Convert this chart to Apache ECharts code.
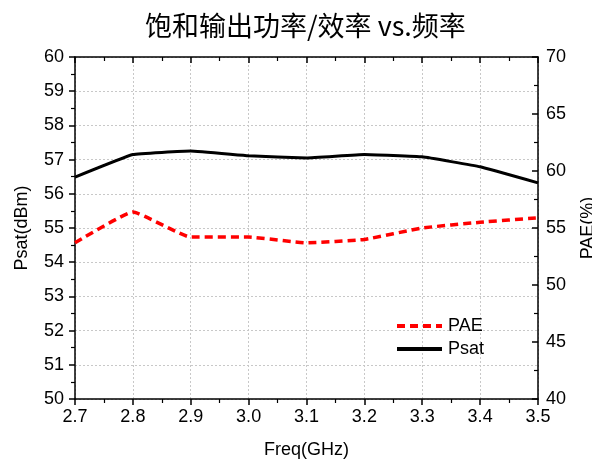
<!DOCTYPE html>
<html><head><meta charset="utf-8">
<script src="https://cdn.jsdelivr.net/npm/echarts@6/dist/echarts.min.js"></script>
<style>html,body{margin:0;padding:0;background:#fff}#c{width:592px;height:461px}</style>
</head><body><div id="c"></div>
<script>
const freq = [2.7, 2.8, 2.9, 3.0, 3.1, 3.2, 3.3, 3.4, 3.5];
const psat = [56.49, 57.15, 57.25, 57.11, 57.05, 57.15, 57.08, 56.79, 56.32];
const pae = [53.7, 56.4, 54.2, 54.2, 53.7, 54.0, 55.0, 55.5, 55.9];
const title = '饱和输出功率/效率 vs.频率';

const chart = echarts.init(document.getElementById('c'));
const font = 'Arial, "Liberation Sans", sans-serif';
const axisLine = {show: true, lineStyle: {color: '#000', width: 1.5}};
const tickOut = {show: true, inside: false, length: 6, lineStyle: {color: '#000', width: 1.5}};
const tickIn = {show: true, inside: true, length: 6, lineStyle: {color: '#000', width: 1.5}};
const minor = {show: true, splitNumber: 2, length: 4, lineStyle: {color: '#000', width: 1.2}};
const grid = {show: true, lineStyle: {color: '#c8c8c8', type: [2, 2], width: 1}};
const lbl = {fontFamily: font, fontSize: 18, color: '#000'};
chart.setOption({
  animation: false,
  title: {text: title, left: 140, top: 7,
    textStyle: {fontFamily: '"Noto Sans CJK SC", serif', fontSize: 27, fontWeight: 'normal', color: '#000'}},
  grid: {left: 75, top: 57, right: 54, bottom: 62, outerBoundsMode: 'none', containLabel: false},
  legend: {left: 390, top: 312, orient: 'vertical', itemWidth: 45, itemHeight: 14, itemGap: 5,
    itemStyle: {opacity: 0}, lineStyle: {width: 4},
    data: ['PAE', 'Psat'], textStyle: Object.assign({padding: [0, 0, 0, 1]}, lbl)},
  xAxis: [{type: 'value', min: 2.7, max: 3.5, interval: 0.1, position: 'bottom',
    name: 'Freq(GHz)', nameLocation: 'middle', nameGap: 42,
    nameTextStyle: lbl,
    axisLine, axisTick: tickOut, minorTick: minor, splitLine: grid,
    axisLabel: Object.assign({margin: 9, formatter: v => v.toFixed(1)}, lbl)},
   {type: 'value', min: 2.7, max: 3.5, interval: 0.1, position: 'top',
    axisLine, axisTick: tickIn, minorTick: minor, splitLine: {show: false}, axisLabel: {show: false}}],
  yAxis: [{type: 'value', min: 50, max: 60, interval: 1, position: 'left',
    name: 'Psat(dBm)', nameLocation: 'middle', nameGap: 44,
    nameTextStyle: lbl,
    axisLine, axisTick: tickOut, minorTick: minor, splitLine: grid,
    axisLabel: Object.assign({margin: 11}, lbl)},
   {type: 'value', min: 40, max: 70, interval: 5, position: 'right',
    name: 'PAE(%)', nameLocation: 'middle', nameGap: 41, nameRotate: 90,
    nameTextStyle: lbl,
    axisLine, axisTick: tickIn, minorTick: minor, splitLine: {show: false},
    axisLabel: Object.assign({margin: 8}, lbl)}],
  series: [
    {name: 'PAE', type: 'line', yAxisIndex: 1, smooth: 0.12, showSymbol: false, symbol: 'none',
     data: freq.map((f, i) => [f, pae[i]]),
     lineStyle: {color: '#ff0000', width: 3.5, type: [8, 5]}, itemStyle: {color: '#ff0000'}},
    {name: 'Psat', type: 'line', yAxisIndex: 0, smooth: 0.08, showSymbol: false, symbol: 'none',
     data: freq.map((f, i) => [f, psat[i]]),
     lineStyle: {color: '#000', width: 3}, itemStyle: {color: '#000'}}
  ]
});
</script></body></html>
